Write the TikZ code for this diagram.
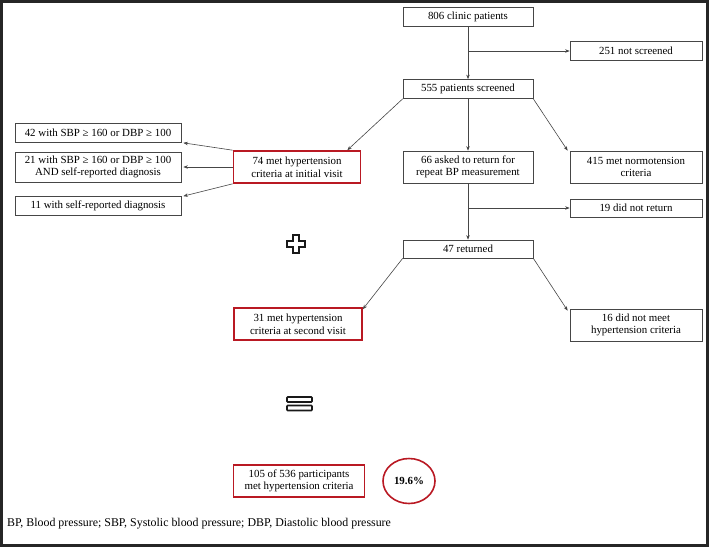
\documentclass[tikz,border=0pt]{standalone}
\usepackage{fontspec}
\setmainfont{Liberation Serif}
\usetikzlibrary{arrows.meta,shapes.geometric}
\definecolor{boxred}{RGB}{185,25,35}
\definecolor{linegray}{RGB}{70,70,70}
\begin{document}
\begin{tikzpicture}[x=1pt,y=-1pt,
  font=\fontsize{10.9}{12.6}\selectfont,
  box/.style={draw=linegray,line width=0.7pt,inner sep=0pt,align=center,minimum height=19pt},
  midbox/.style={box,minimum width=130pt},
  sidebox/.style={box,minimum width=132pt},
  leftbox/.style={box,minimum width=166pt},
  redbox/.style={draw=boxred,line width=1.6pt,inner sep=0pt,align=center,minimum height=32pt,minimum width=127pt},
  arr/.style={draw=linegray,line width=0.6pt,-{Stealth[length=4.5pt,width=3.5pt]}}]
\useasboundingbox (0,0) rectangle (709,547);
\draw[line width=2.5pt,gray!30!black] (1.5,1.5) rectangle (707.5,545.5);
\node[midbox] (n806) at (468,17) {806 clinic patients};
\node[sidebox] (n251) at (636,51) {251 not screened};
\node[midbox] (n555) at (468,89) {555 patients screened};
\node[midbox,minimum height=32pt] (n66) at (468,167) {66 asked to return for\\repeat BP measurement};
\node[sidebox,minimum height=32pt] (n415) at (636,167) {415 met normotension\\criteria};
\node[redbox] (n74) at (297,167) {74 met hypertension\\criteria at initial visit};
\node[leftbox] (n42) at (98,133) {42 with SBP ≥ 160 or DBP ≥ 100};
\node[leftbox,minimum height=30pt] (n21) at (98,167) {21 with SBP ≥ 160 or DBP ≥ 100\\AND self-reported diagnosis};
\node[leftbox] (n11) at (98,206) {11 with self-reported diagnosis};
\node[sidebox,minimum height=18pt] (n19) at (636,208) {19 did not return};
\node[midbox,minimum height=18pt] (n47) at (468,249) {47 returned};
\node[redbox,minimum width=128pt] (n31) at (298,324) {31 met hypertension\\criteria at second visit};
\node[sidebox,minimum height=32pt] (n16) at (636,325) {16 did not meet\\hypertension criteria};
\node[redbox,minimum width=131pt] (n105) at (299,481) {105 of 536 participants\\met hypertension criteria};
\node[draw=boxred,line width=1.6pt,ellipse,minimum width=52pt,minimum height=45pt,inner sep=0pt,font=\fontsize{10.9}{12.6}\selectfont\bfseries] (pct) at (409,481) {19.6\%};
\coordinate (b1) at (468,51);
\coordinate (b2) at (468,208);
\draw[arr] (n806) -- (n555);
\draw[arr] (b1) -- (n251.west);
\draw[arr] (n555.south west) -- ([xshift=-14]n74.north east);
\draw[arr] (n555) -- (n66);
\draw[arr] (n555.south east) -- ([xshift=-2]n415.north west);
\draw[arr] (n74.north west) -- ([xshift=2]n42.south east);
\draw[arr] (n74.west) -- ([xshift=2]n21.east);
\draw[arr] (n74.south west) -- ([xshift=2]n11.north east);
\draw[arr] (n66) -- (n47);
\draw[arr] (b2) -- (n19.west);
\draw[arr] (n47.south west) -- ([yshift=-2]n31.north east);
\draw[arr] (n47.south east) -- ([xshift=-2,yshift=-2]n16.north west);
\draw[line width=1.6pt,gray!20!black,shift={(296,244)}] (-3,-9) -- (3,-9) -- (3,-3) -- (9,-3) -- (9,3) -- (3,3) -- (3,9) -- (-3,9) -- (-3,3) -- (-9,3) -- (-9,-3) -- (-3,-3) -- cycle;
\draw[line width=1.6pt,gray!20!black,rounded corners=0.8pt] (287,397) rectangle (312,402);
\draw[line width=1.6pt,gray!20!black,rounded corners=0.8pt] (287,405.5) rectangle (312,410.5);
\node[anchor=west,inner sep=0pt,font=\fontsize{11.9}{13}\selectfont] (foot) at (7,524) {BP, Blood pressure; SBP, Systolic blood pressure; DBP, Diastolic blood pressure};
\end{tikzpicture}
\end{document}
